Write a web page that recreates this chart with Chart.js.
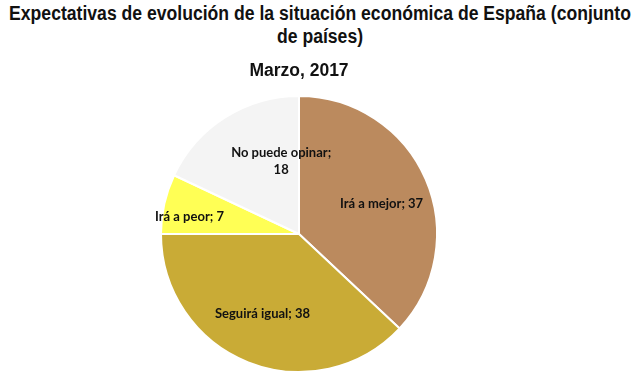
<!DOCTYPE html>
<html>
<head>
<meta charset="utf-8">
<script src="https://cdn.jsdelivr.net/npm/chart.js@4.4.1/dist/chart.umd.min.js"></script>
<style>
  html, body { margin: 0; padding: 0; background: #fff; }
  #wrap { position: relative; width: 640px; height: 376px; }
  #title {
    position: absolute; left: 0; top: 2px; width: 640px;
    text-align: center; font: bold 17.6px "Liberation Sans", Arial, sans-serif;
    line-height: 20px; color: #111;
    transform: scaleY(1.13); transform-origin: top center;
  }
  canvas { position: absolute; left: 0; top: 0; }
</style>
</head>
<body>
<div id="wrap">
  <div id="title">Expectativas de evolución de la situación económica de España (conjunto<br>de países)</div>
  <canvas id="canvasPie" width="640" height="376"></canvas>
</div>
<script>
var sliceNames = ['Irá a mejor', 'Seguirá igual', 'Irá a peor', 'No puede opinar'];
var sliceValues = [37, 38, 7, 18];
var sliceColors = ['#BB8A5E', '#C9AB36', '#FFFF55', '#F4F4F4'];
var subtitleText = 'Marzo, 2017';

// little nudges so the labels sit where the original puts them
var labelShift = [[4, 4], [-5, 0], [-26, 1], [28, -1]];

var pieLabels = {
    id: 'pieLabels',
    afterDatasetsDraw: function (chart) {
        var ctx = chart.ctx;
        var meta = chart.getDatasetMeta(0);
        ctx.save();
        ctx.font = 'bold 13px Lato, "Open Sans", sans-serif';
        ctx.fillStyle = '#111';
        ctx.textAlign = 'center';
        ctx.textBaseline = 'middle';
        meta.data.forEach(function (arc, i) {
            var p = arc.getProps(['x', 'y', 'startAngle', 'endAngle', 'outerRadius'], true);
            var mid = (p.startAngle + p.endAngle) / 2;
            var r = p.outerRadius * 0.62;
            var x = p.x + Math.cos(mid) * r + labelShift[i][0];
            var y = p.y + Math.sin(mid) * r + labelShift[i][1];
            var txt = sliceNames[i] + '; ' + sliceValues[i];
            if (sliceNames[i] === 'No puede opinar') {
                ctx.fillText(sliceNames[i] + ';', x, y - 8);
                ctx.fillText(String(sliceValues[i]), x, y + 9);
            } else {
                ctx.fillText(txt, x, y);
            }
        });
        ctx.restore();
    }
};

var config = {
    type: 'pie',
    data: {
        labels: sliceNames,
        datasets: [{
            data: sliceValues,
            backgroundColor: sliceColors,
            borderColor: '#ffffff',
            borderWidth: 2
        }]
    },
    options: {
        animation: false,
        responsive: false,
        layout: {
            padding: { top: 59, right: 42, bottom: 3, left: 0 }
        },
        plugins: {
            legend: { display: false },
            tooltip: { enabled: false },
            title: {
                display: true,
                text: subtitleText,
                color: '#111',
                font: { family: '"Liberation Sans", Arial, sans-serif', size: 17.5, weight: 'bold' },
                padding: { top: 2, bottom: 13 }
            }
        }
    },
    plugins: [pieLabels]
};

var ctx = document.getElementById('canvasPie').getContext('2d');
var myPie = new Chart(ctx, config);
</script>
</body>
</html>
